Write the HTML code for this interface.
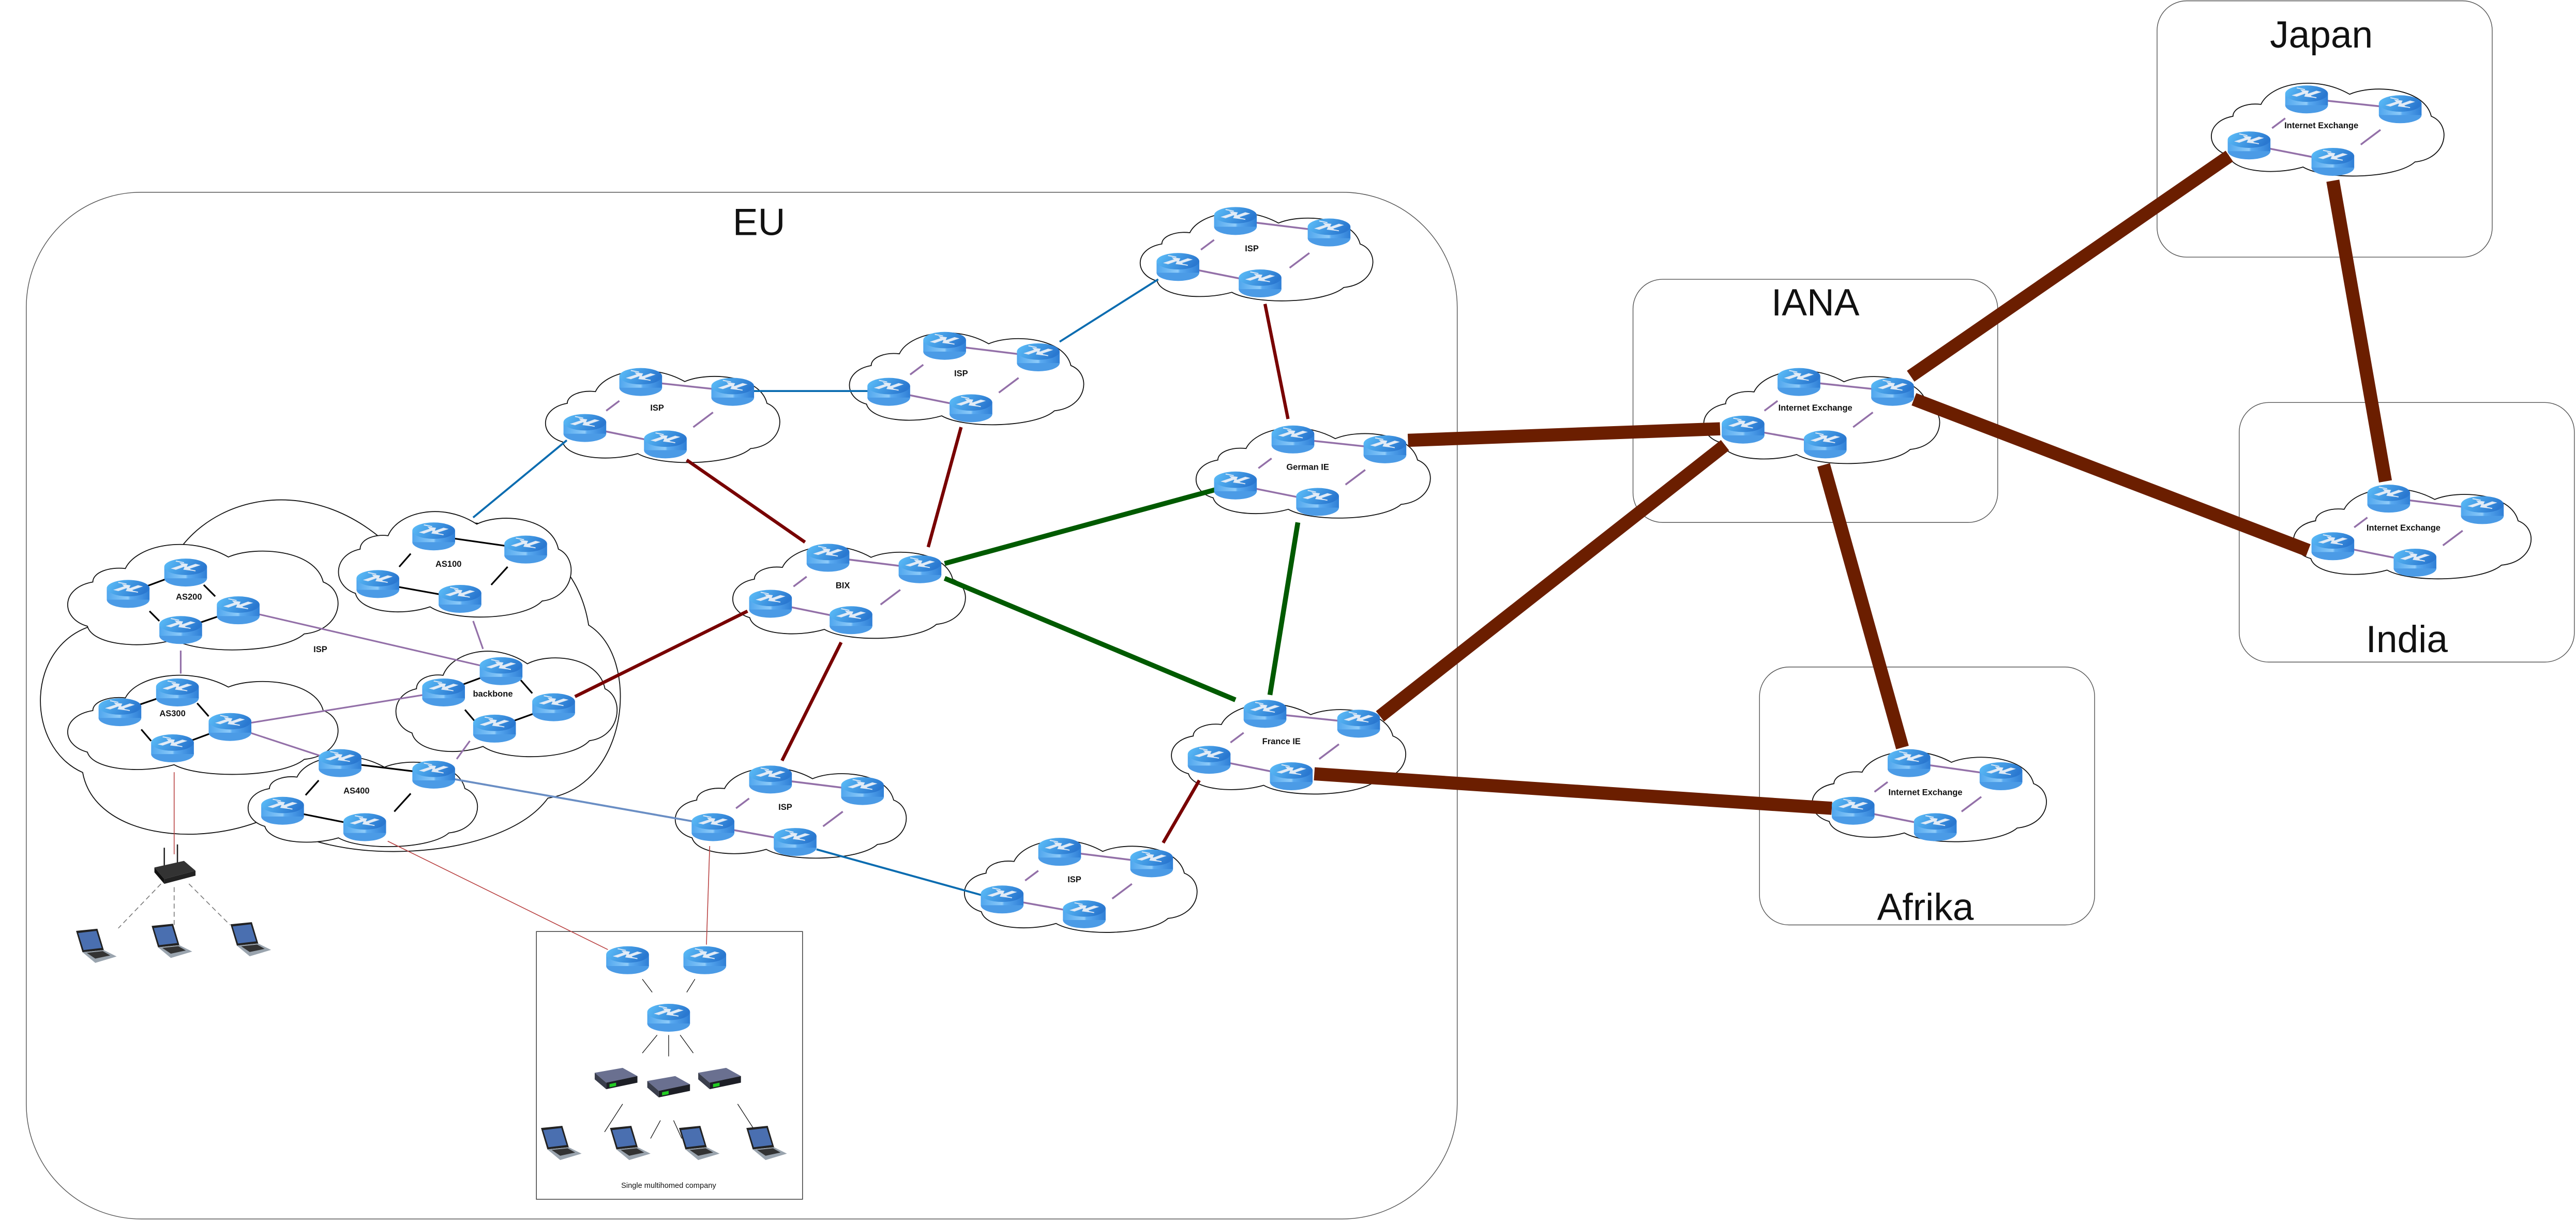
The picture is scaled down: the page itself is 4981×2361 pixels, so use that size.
<!DOCTYPE html>
<html><head><meta charset="utf-8"><style>
html,body{margin:0;padding:0;background:#fff;}
svg{display:block;}
text{font-family:"Liberation Sans",sans-serif;}
</style></head><body>
<svg width="4981" height="2361" viewBox="0 0 1568 743.2" xmlns="http://www.w3.org/2000/svg">
<defs>
<linearGradient id="rg" x1="0" x2="1" y1="0" y2="0">
<stop offset="0" stop-color="#4fa6ee"/><stop offset="0.5" stop-color="#8ecbf9"/><stop offset="0.55" stop-color="#5aaaf0"/><stop offset="1" stop-color="#2f7fd6"/></linearGradient>
<linearGradient id="rt" x1="0" x2="1" y1="0" y2="0.3">
<stop offset="0" stop-color="#5ec0fa"/><stop offset="1" stop-color="#2a78d0"/></linearGradient>
<g id="r">
<ellipse cx="0" cy="4" rx="13" ry="5" fill="#4b9be6"/>
<rect x="-13" y="-3" width="26" height="7" fill="url(#rg)"/>
<ellipse cx="0" cy="-3" rx="13" ry="5" fill="url(#rt)"/>
<path d="M-8,-2 L-2,-4 L-3,-5 L1,-4.5 L0,-2.5 L-1,-3.3 L-6,-1.5Z M8,-4 L2,-2 L3,-1 L-1,-1.5 L0,-3.5 L1,-2.7 L6,-4.5Z M-6,-6.5 L-1,-5.5 M6,-0.5 L1,-1.5" fill="#e4eef8" stroke="#dfe9f5" stroke-width="0.6"/>
</g>
<path id="cl" d="M22,18 C26,6 45,0 60,12 C70,6 92,8 95,25 C104,30 102,50 88,52 C80,62 50,63 40,55 C28,60 10,58 8,48 C-2,44 -2,28 10,25 C10,20 16,17 22,18 Z" fill="#fff" stroke="#111" stroke-width="1.8" vector-effect="non-scaling-stroke"/>
<g id="lap"><g transform="scale(1.3)">
<path d="M-9,-8 L1,-9 L4,1 L-6,2 Z" fill="#222"/>
<path d="M-8,-7 L0.5,-8 L3,0 L-5.5,1 Z" fill="#4a6fb0"/>
<path d="M-6,2 L4,1 L10,4 L0,7 Z" fill="#9aa4ae"/>
<path d="M-4,2.3 L3.5,1.5 L7,3.5 L0,5 Z" fill="#333"/>
</g></g>
<g id="sw">
<path d="M-13,-3 L4,-6 L13,-1 L-6,3 Z" fill="#6a7090"/>
<path d="M-13,-3 L-6,3 L-6,7 L-13,1 Z" fill="#3a3e4c"/>
<path d="M-6,3 L13,-1 L13,3 L-6,7 Z" fill="#1d1f26"/>
<rect x="-4" y="3" width="4" height="2" fill="#2c2" transform="skewY(-12)"/>
</g>
</defs>

<g fill="none" stroke="#555" stroke-width="0.45">
<rect x="16" y="117" width="871" height="625" rx="70"/>
<rect x="1313" y="0.5" width="204" height="156" rx="18"/>
<rect x="994" y="170" width="222" height="148" rx="18"/>
<rect x="1363" y="245" width="204" height="158" rx="18"/>
<rect x="1071" y="406" width="204" height="157" rx="18"/>
<rect x="326.5" y="567" width="162" height="163" stroke="#333"/>
</g>
<g font-size="23" text-anchor="middle" fill="#111">
<text x="462" y="143">EU</text>
<text x="1413" y="29">Japan</text>
<text x="1105" y="192">IANA</text>
<text x="1465" y="397">India</text>
<text x="1172" y="560">Afrika</text>
</g>

<use href="#cl" transform="translate(22,283) scale(3.54,3.9)"/>
<use href="#cl" transform="translate(40,325) scale(1.65,1.17)"/>
<use href="#cl" transform="translate(205,305) scale(1.42,1.17)"/>
<use href="#cl" transform="translate(40,405) scale(1.65,1.1)"/>
<use href="#cl" transform="translate(240,390) scale(1.35,1.17)"/>
<use href="#cl" transform="translate(150,455) scale(1.4,1.0)"/>
<use href="#cl" transform="translate(1345,45) scale(1.42,1.03)"/>
<use href="#cl" transform="translate(1036,220) scale(1.44,1.03)"/>
<use href="#cl" transform="translate(1395,292) scale(1.45,1.0)"/>
<use href="#cl" transform="translate(1102,452) scale(1.43,1.0)"/>
<use href="#cl" transform="translate(712,423) scale(1.43,1.0)"/>
<use href="#cl" transform="translate(727,255) scale(1.43,1.0)"/>
<use href="#cl" transform="translate(445,327) scale(1.42,1.02)"/>
<use href="#cl" transform="translate(693,124) scale(1.42,0.98)"/>
<use href="#cl" transform="translate(516,197) scale(1.43,1.02)"/>
<use href="#cl" transform="translate(331,220) scale(1.43,1.02)"/>
<use href="#cl" transform="translate(410,462) scale(1.41,1.0)"/>
<use href="#cl" transform="translate(586,506) scale(1.42,1.02)"/>

<g stroke="#6b1e00" stroke-width="8" stroke-linecap="butt">
<line x1="857" y1="268" x2="1047" y2="261"/>
<line x1="1163" y1="229" x2="1357" y2="95"/>
<line x1="1165" y1="243" x2="1405" y2="335"/>
<line x1="1420" y1="110" x2="1452" y2="293"/>
<line x1="1050" y1="271" x2="840" y2="436"/>
<line x1="1110" y1="283" x2="1158" y2="455"/>
<line x1="800" y1="471" x2="1115" y2="492"/>
</g>
<g stroke="#005a00" stroke-width="3">
<line x1="575" y1="343" x2="740" y2="298"/>
<line x1="575" y1="352" x2="752" y2="426"/>
<line x1="790" y1="318" x2="773" y2="423"/>
</g>
<g stroke="#780000" stroke-width="2">
<line x1="418" y1="280" x2="490" y2="330"/>
<line x1="585" y1="260" x2="565" y2="333"/>
<line x1="770" y1="185" x2="784" y2="255"/>
<line x1="350" y1="424" x2="455" y2="372"/>
<line x1="512" y1="391" x2="476" y2="463"/>
<line x1="730" y1="475" x2="708" y2="513"/>
</g>
<g stroke="#0a6cb0" stroke-width="1.2">
<line x1="288" y1="315" x2="345" y2="268"/>
<line x1="446" y1="238" x2="541" y2="238"/>
<line x1="645" y1="208" x2="705" y2="170"/>
<line x1="497" y1="517" x2="598" y2="545"/>
</g>
<line x1="275" y1="474" x2="422" y2="500" stroke="#6a8ec4" stroke-width="1.2"/>
<g stroke="#b84040" stroke-width="0.5">
<line x1="106" y1="470" x2="106" y2="520"/>
<line x1="236" y1="512" x2="370" y2="578"/>
<line x1="432" y1="515" x2="430" y2="575"/>
</g>

<g stroke="#9370a8" stroke-width="1">
<line x1="145" y1="371" x2="305" y2="408"/>
<line x1="110" y1="396" x2="110" y2="410"/>
<line x1="140" y1="442" x2="270" y2="421"/>
<line x1="140" y1="442" x2="207" y2="464"/>
<line x1="288" y1="378" x2="294" y2="395"/>
<line x1="286" y1="451" x2="278" y2="462"/>
</g>

<g stroke="#9370a8" stroke-width="1.1">
<line x1="1404" y1="60" x2="1461" y2="66"/><line x1="1369" y1="88" x2="1420" y2="98"/><line x1="1391" y1="72" x2="1383" y2="78"/><line x1="1449" y1="79" x2="1437" y2="88"/>
<line x1="1095" y1="232" x2="1152" y2="238"/><line x1="1061" y1="261" x2="1111" y2="270"/><line x1="1082" y1="244" x2="1074" y2="250"/><line x1="1140" y1="251" x2="1128" y2="260"/>
<line x1="1454" y1="303" x2="1511" y2="310"/><line x1="1420" y1="332" x2="1470" y2="342"/><line x1="1441" y1="315" x2="1433" y2="321"/><line x1="1499" y1="323" x2="1487" y2="332"/>
<line x1="1162" y1="464" x2="1218" y2="472"/><line x1="1128" y1="493" x2="1178" y2="503"/><line x1="1149" y1="476" x2="1141" y2="482"/><line x1="1206" y1="485" x2="1194" y2="494"/>
<line x1="770" y1="434" x2="827" y2="440"/><line x1="736" y1="462" x2="786" y2="472"/><line x1="757" y1="446" x2="749" y2="452"/><line x1="815" y1="453" x2="803" y2="462"/>
<line x1="787" y1="267" x2="843" y2="273"/><line x1="752" y1="295" x2="802" y2="305"/><line x1="774" y1="279" x2="766" y2="285"/><line x1="831" y1="286" x2="819" y2="295"/>
<line x1="504" y1="339" x2="560" y2="346"/><line x1="469" y1="367" x2="518" y2="377"/><line x1="491" y1="351" x2="483" y2="357"/><line x1="548" y1="359" x2="536" y2="368"/>
<line x1="752" y1="134" x2="809" y2="141"/><line x1="717" y1="162" x2="767" y2="172"/><line x1="739" y1="146" x2="731" y2="152"/><line x1="797" y1="154" x2="785" y2="163"/>
<line x1="575" y1="210" x2="632" y2="217"/><line x1="541" y1="238" x2="591" y2="248"/><line x1="562" y1="222" x2="554" y2="228"/><line x1="620" y1="230" x2="608" y2="239"/>
<line x1="390" y1="232" x2="446" y2="238"/><line x1="356" y1="260" x2="405" y2="270"/><line x1="377" y1="244" x2="369" y2="250"/><line x1="434" y1="251" x2="422" y2="260"/>
<line x1="469" y1="474" x2="525" y2="481"/><line x1="434" y1="503" x2="484" y2="512"/><line x1="456" y1="486" x2="448" y2="492"/><line x1="513" y1="494" x2="501" y2="503"/>
<line x1="645" y1="518" x2="701" y2="525"/><line x1="610" y1="547" x2="660" y2="556"/><line x1="632" y1="530" x2="624" y2="536"/><line x1="689" y1="538" x2="677" y2="547"/>
</g>

<g stroke="#000" stroke-width="1">
<line x1="78" y1="361" x2="113" y2="348"/><line x1="145" y1="371" x2="110" y2="383"/><line x1="124" y1="356" x2="131" y2="363"/><line x1="91" y1="372" x2="97" y2="378"/>
<line x1="264" y1="326" x2="320" y2="334"/><line x1="230" y1="355" x2="280" y2="364"/><line x1="250" y1="337" x2="243" y2="345"/><line x1="309" y1="345" x2="299" y2="356"/>
<line x1="73" y1="433" x2="108" y2="421"/><line x1="140" y1="442" x2="105" y2="455"/><line x1="120" y1="428" x2="127" y2="436"/><line x1="86" y1="444" x2="92" y2="451"/>
<line x1="270" y1="421" x2="305" y2="408"/><line x1="337" y1="430" x2="301" y2="443"/><line x1="317" y1="414" x2="324" y2="422"/><line x1="283" y1="432" x2="289" y2="439"/>
<line x1="207" y1="464" x2="264" y2="471"/><line x1="172" y1="493" x2="222" y2="503"/><line x1="194" y1="475" x2="186" y2="484"/><line x1="250" y1="483" x2="240" y2="494"/>
</g>

<g stroke="#111" stroke-width="0.4">
<line x1="391" y1="596" x2="397" y2="604"/><line x1="423" y1="596" x2="418" y2="604"/>
<line x1="400" y1="630" x2="391" y2="641"/><line x1="407" y1="630" x2="407" y2="643"/><line x1="414" y1="630" x2="422" y2="641"/>
<line x1="379" y1="672" x2="368" y2="689"/><line x1="402" y1="682" x2="396" y2="693"/><line x1="410" y1="682" x2="415" y2="693"/><line x1="449" y1="672" x2="460" y2="689"/>
</g>
<g stroke="#777" stroke-width="0.5" stroke-dasharray="3,2">
<line x1="98" y1="538" x2="72" y2="565"/><line x1="106" y1="540" x2="106" y2="563"/><line x1="115" y1="538" x2="140" y2="563"/>
</g>

<g>
<use href="#r" x="1404" y="60"/><use href="#r" x="1461" y="66"/><use href="#r" x="1369" y="88"/><use href="#r" x="1420" y="98"/>
<use href="#r" x="1095" y="232"/><use href="#r" x="1152" y="238"/><use href="#r" x="1061" y="261"/><use href="#r" x="1111" y="270"/>
<use href="#r" x="1454" y="303"/><use href="#r" x="1511" y="310"/><use href="#r" x="1420" y="332"/><use href="#r" x="1470" y="342"/>
<use href="#r" x="1162" y="464"/><use href="#r" x="1218" y="472"/><use href="#r" x="1128" y="493"/><use href="#r" x="1178" y="503"/>
<use href="#r" x="770" y="434"/><use href="#r" x="827" y="440"/><use href="#r" x="736" y="462"/><use href="#r" x="786" y="472"/>
<use href="#r" x="787" y="267"/><use href="#r" x="843" y="273"/><use href="#r" x="752" y="295"/><use href="#r" x="802" y="305"/>
<use href="#r" x="504" y="339"/><use href="#r" x="560" y="346"/><use href="#r" x="469" y="367"/><use href="#r" x="518" y="377"/>
<use href="#r" x="752" y="134"/><use href="#r" x="809" y="141"/><use href="#r" x="717" y="162"/><use href="#r" x="767" y="172"/>
<use href="#r" x="575" y="210"/><use href="#r" x="632" y="217"/><use href="#r" x="541" y="238"/><use href="#r" x="591" y="248"/>
<use href="#r" x="390" y="232"/><use href="#r" x="446" y="238"/><use href="#r" x="356" y="260"/><use href="#r" x="405" y="270"/>
<use href="#r" x="469" y="474"/><use href="#r" x="525" y="481"/><use href="#r" x="434" y="503"/><use href="#r" x="484" y="512"/>
<use href="#r" x="645" y="518"/><use href="#r" x="701" y="525"/><use href="#r" x="610" y="547"/><use href="#r" x="660" y="556"/>
<use href="#r" x="78" y="361"/><use href="#r" x="113" y="348"/><use href="#r" x="145" y="371"/><use href="#r" x="110" y="383"/>
<use href="#r" x="264" y="326"/><use href="#r" x="320" y="334"/><use href="#r" x="230" y="355"/><use href="#r" x="280" y="364"/>
<use href="#r" x="108" y="421"/><use href="#r" x="73" y="433"/><use href="#r" x="140" y="442"/><use href="#r" x="105" y="455"/>
<use href="#r" x="305" y="408"/><use href="#r" x="270" y="421"/><use href="#r" x="337" y="430"/><use href="#r" x="301" y="443"/>
<use href="#r" x="207" y="464"/><use href="#r" x="264" y="471"/><use href="#r" x="172" y="493"/><use href="#r" x="222" y="503"/>
<use href="#r" x="382" y="584"/><use href="#r" x="429" y="584"/><use href="#r" x="407" y="619"/>
</g>

<use href="#sw" x="375" y="656"/><use href="#sw" x="407" y="661"/><use href="#sw" x="438" y="656"/>
<use href="#lap" x="58" y="577"/><use href="#lap" x="104" y="574"/><use href="#lap" x="152" y="573"/>
<use href="#lap" x="341" y="697"/><use href="#lap" x="383" y="697"/><use href="#lap" x="425" y="697"/><use href="#lap" x="466" y="697"/>
<g>
<line x1="100" y1="516" x2="100" y2="527" stroke="#222" stroke-width="0.8"/>
<line x1="108" y1="514" x2="108" y2="526" stroke="#222" stroke-width="0.8"/>
<path d="M94,528 L112,524 L119,530 L100,535 Z" fill="#333"/>
<path d="M94,528 L100,535 L100,538 L94,531 Z" fill="#111"/>
<path d="M100,535 L119,530 L119,533 L100,538 Z" fill="#222"/>
</g>

<g font-size="5.2" font-weight="bold" text-anchor="middle" fill="#111">
<text x="1413" y="78">Internet Exchange</text>
<text x="1105" y="250">Internet Exchange</text>
<text x="1463" y="323">Internet Exchange</text>
<text x="1172" y="484">Internet Exchange</text>
<text x="780" y="453">France IE</text>
<text x="796" y="286">German IE</text>
<text x="513" y="358">BIX</text>
<text x="762" y="153">ISP</text>
<text x="585" y="229">ISP</text>
<text x="400" y="250">ISP</text>
<text x="478" y="493">ISP</text>
<text x="654" y="537">ISP</text>
<text x="195" y="397">ISP</text>
<text x="115" y="365">AS200</text>
<text x="273" y="345">AS100</text>
<text x="105" y="436">AS300</text>
<text x="300" y="424">backbone</text>
<text x="217" y="483">AS400</text>
</g>
<text x="407" y="723" font-size="4.6" text-anchor="middle" fill="#111">Single multihomed company</text>
</svg>
</body></html>
